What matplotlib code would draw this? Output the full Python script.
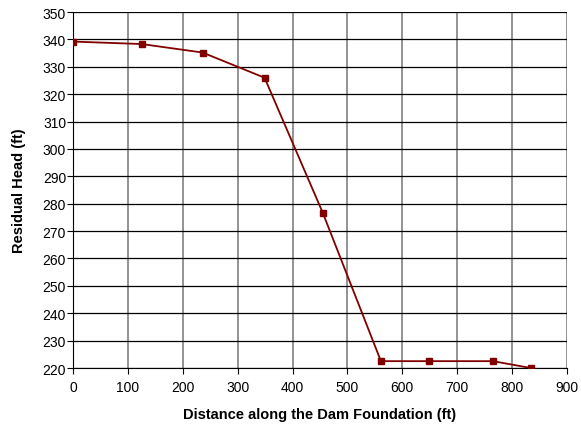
import matplotlib
matplotlib.use('Agg')
import matplotlib.pyplot as plt

distance = [0, 125, 236, 349, 455, 561, 648, 765, 834]
head = [339.2, 338.3, 335.2, 326.0, 276.7, 222.5, 222.5, 222.5, 220.0]

plt.rcParams['font.family'] = ['Liberation Sans', 'DejaVu Sans']

fig = plt.figure(figsize=(5.81, 4.27), dpi=100)
ax = fig.add_axes([73 / 581, 1 - 369 / 427, 494 / 581, 356 / 427])

ax.plot(distance, head, color='#800000', linewidth=1.3, marker='s',
        markersize=5, markerfacecolor='#800000', markeredgecolor='#800000',
        zorder=3)

ax.set_xlim(0, 900)
ax.set_ylim(220, 350)
ax.set_xticks(range(0, 901, 100))
ax.set_yticks(range(220, 351, 10))
ax.yaxis.grid(True, color='black', linewidth=0.9)
ax.xaxis.grid(True, color='#808080', linewidth=1.2)
ax.tick_params(axis='y', direction='out', length=4, labelsize=10, pad=1)
ax.tick_params(axis='x', direction='out', length=4, labelsize=10, pad=5)
for side in ['top', 'right']:
    ax.spines[side].set_visible(False)
ax.spines['left'].set_color('black')
ax.spines['bottom'].set_color('black')

ax.set_xlabel('Distance along the Dam Foundation (ft)', fontsize=10.5,
              fontweight='bold', labelpad=9)
ax.set_ylabel('Residual Head (ft)', fontsize=10.5, fontweight='bold',
              labelpad=12)

fig.savefig('out.png', dpi=100)
